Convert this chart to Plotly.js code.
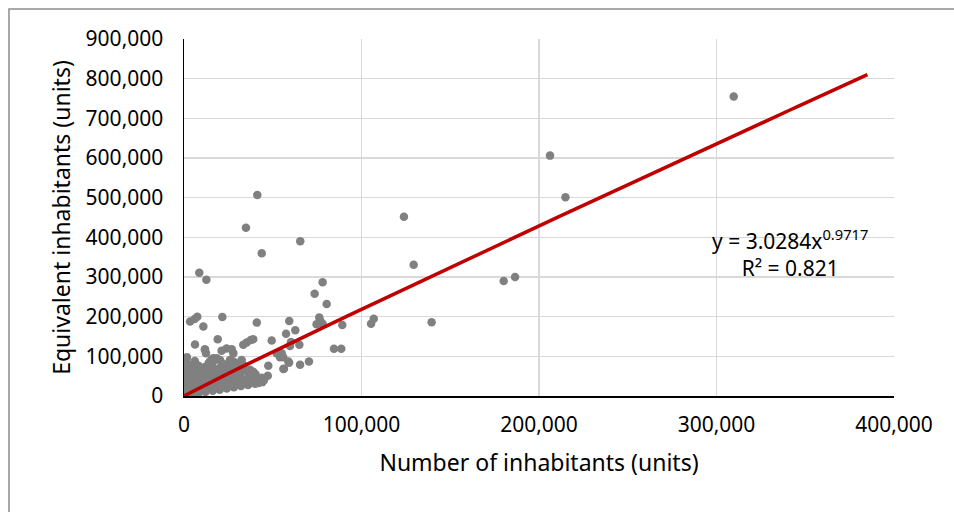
<!DOCTYPE html>
<html>
<head>
<meta charset="utf-8">
<script src="https://cdn.plot.ly/plotly-3.0.1.min.js"></script>
<style>
  html, body { margin: 0; padding: 0; background: #fff; }
  #chart { width: 954px; height: 512px; }
</style>
</head>
<body>
<div id="chart"></div>
<script>
// Number of inhabitants per municipality (x) and equivalent inhabitants (y)
const inhabitants = [
  309700, 206200, 214900, 123900, 129400, 180100, 186500, 139500,
  41300, 34900, 43800, 65500, 78100, 73600, 80400, 76200, 76800, 74700, 78100,
  89200, 105400, 106900, 84500, 88600, 59300, 62700, 57500, 60300, 59700, 65000,
  55000, 55900, 59200, 56300, 65400, 70400, 52200, 54100, 58800, 47500, 47200,
  8600, 12600, 3400, 6000, 7500, 21600, 10900, 41000, 6200, 19000, 11800, 12400,
  26900, 27800, 33400, 35300, 37600, 39000, 49400, 21200, 24000, 32100, 33400,
  39000, 56000, 15600, 18400, 20300, 17000, 1500, 1500, 37200, 39000, 25900,
  27800, 32500, 16500, 14600, 11800, 45000, 42000, 41000,
  // dense group of small municipalities
  300, 800, 1200, 600, 1500, 900, 1100, 700, 1300, 1000, 1600, 2200, 500,
  4100, 3800, 4300, 3600, 4200, 3900, 4500, 3700, 4000,
  8200, 7800, 8400, 7600, 8100, 7900, 8300, 7700, 8000,
  12100, 11800, 12300, 11600, 12200, 11900, 12400, 11700,
  16200, 15800, 16300, 15700, 16100, 15900, 16400, 15600,
  20100, 19800, 20300, 19700, 20200, 19900, 20400,
  24100, 23800, 24300, 23700, 24200, 23900, 24400,
  28100, 27800, 28300, 27700, 28200, 27900,
  32100, 31800, 32300, 31700, 32200,
  36100, 35800, 36300, 35700,
  40100, 39800, 40300,
  44100, 43800,
  2500, 5900, 9800, 13900, 18100, 22000, 26000, 30100, 34000, 6100, 10200, 14100
];
const equivalent = [
  755000, 606000, 501000, 452000, 331000, 290000, 300000, 186000,
  507000, 424000, 360000, 390000, 287000, 258000, 232000, 198000, 189000, 181000, 182000,
  179000, 182000, 195000, 119000, 119000, 189000, 166000, 157000, 136000, 126000, 129000,
  108000, 98000, 84000, 69000, 79000, 87000, 108000, 98000, 87000, 76000, 51000,
  311000, 293000, 188000, 194000, 200000, 199000, 175000, 185000, 130000, 143000, 118000, 108000,
  118000, 108000, 129000, 135000, 141000, 143000, 140000, 114000, 120000, 87000, 78000,
  61000, 68000, 92000, 95000, 91000, 89000, 95000, 83000, 66000, 57000, 91000,
  87000, 91000, 95000, 87000, 116000, 40000, 33000, 47000,
  // dense group of small municipalities
  2000, 8000, 15000, 25000, 35000, 45000, 55000, 65000, 75000, 85000, 98000, 60000, 30000,
  5000, 14000, 22000, 33000, 41000, 52000, 60000, 71000, 78000,
  7000, 16000, 24000, 35000, 44000, 53000, 62000, 70000, 77000,
  10000, 19000, 28000, 38000, 47000, 56000, 65000, 73000,
  13000, 22000, 31000, 40000, 50000, 58000, 68000, 79000,
  16000, 25000, 34000, 44000, 53000, 62000, 72000,
  19000, 27000, 37000, 46000, 57000, 66000, 78000,
  22000, 30000, 40000, 50000, 61000, 70000,
  25000, 34000, 44000, 55000, 68000,
  28000, 38000, 48000, 62000,
  31000, 42000, 55000,
  35000, 46000,
  11000, 29000, 49000, 83000, 67000, 81000, 85000, 76000, 73000, 88000, 39000, 42000
];

// Power trend line  y = a * x^b  as stated on the chart
const trendA = 3.0284;
const trendB = 0.9717;
const trendR2 = 0.821;
const trendMaxX = 385000;

const trendX = [];
const trendY = [];
for (let i = 0; i <= 80; i++) {
  const x = 200 + (trendMaxX - 200) * i / 80;
  trendX.push(x);
  trendY.push(trendA * Math.pow(x, trendB));
}

const FONT = "'Noto Sans', 'Open Sans', sans-serif";

const traces = [
  {
    type: 'scatter',
    mode: 'markers',
    x: inhabitants,
    y: equivalent,
    marker: { color: '#808080', size: 8.5, line: { width: 0 } },
    hoverinfo: 'x+y',
    showlegend: false
  },
  {
    type: 'scatter',
    mode: 'lines',
    x: trendX,
    y: trendY,
    line: { color: '#c00000', width: 3.5 },
    hoverinfo: 'skip',
    showlegend: false
  }
];

const layout = {
  width: 954,
  height: 512,
  margin: { l: 184, r: 60, t: 39, b: 116 },
  paper_bgcolor: '#ffffff',
  plot_bgcolor: '#ffffff',
  font: { family: FONT, size: 21, color: '#000000' },
  showlegend: false,
  xaxis: {
    range: [0, 400000],
    tickvals: [0, 100000, 200000, 300000, 400000],
    tickformat: ',d',
    showgrid: true,
    gridcolor: '#d9d9d9',
    gridwidth: 1.5,
    zeroline: false,
    showline: true,
    linecolor: '#000000',
    linewidth: 1.5,
    ticks: '',
    ticklabelstandoff: 9,
    tickfont: { family: FONT, size: 21, color: '#000000' },
    title: { text: 'Number of inhabitants (units)', font: { family: FONT, size: 23, color: '#000000' }, standoff: 18 }
  },
  yaxis: {
    range: [0, 900000],
    tickvals: [0, 100000, 200000, 300000, 400000, 500000, 600000, 700000, 800000, 900000],
    tickformat: ',d',
    showgrid: true,
    gridcolor: '#d9d9d9',
    gridwidth: 1.5,
    zeroline: false,
    showline: true,
    linecolor: '#000000',
    linewidth: 1.5,
    ticks: '',
    ticklabelstandoff: 15,
    tickfont: { family: FONT, size: 21, color: '#000000' },
    title: { text: 'Equivalent inhabitants (units)', font: { family: FONT, size: 23, color: '#000000' }, standoff: 8 }
  },
  annotations: [
    {
      xref: 'paper', yref: 'paper',
      x: 0.8535, y: 0.40,
      xanchor: 'center', yanchor: 'middle',
      align: 'center',
      showarrow: false,
      text: 'y = ' + trendA.toFixed(4) + 'x<sup>' + trendB.toFixed(4) + '</sup><br>R² = ' + trendR2.toFixed(3),
      font: { family: FONT, size: 21, color: '#000000' }
    }
  ],
  shapes: [
    {
      type: 'rect', xref: 'paper', yref: 'paper',
      x0: -0.2465, x1: 1.2, y0: -0.5, y1: 1.084,
      line: { color: '#8c8c8c', width: 1.5 },
      fillcolor: 'rgba(0,0,0,0)',
      layer: 'below'
    }
  ]
};

Plotly.newPlot('chart', traces, layout, { displayModeBar: false, staticPlot: true });
</script>
</body>
</html>
